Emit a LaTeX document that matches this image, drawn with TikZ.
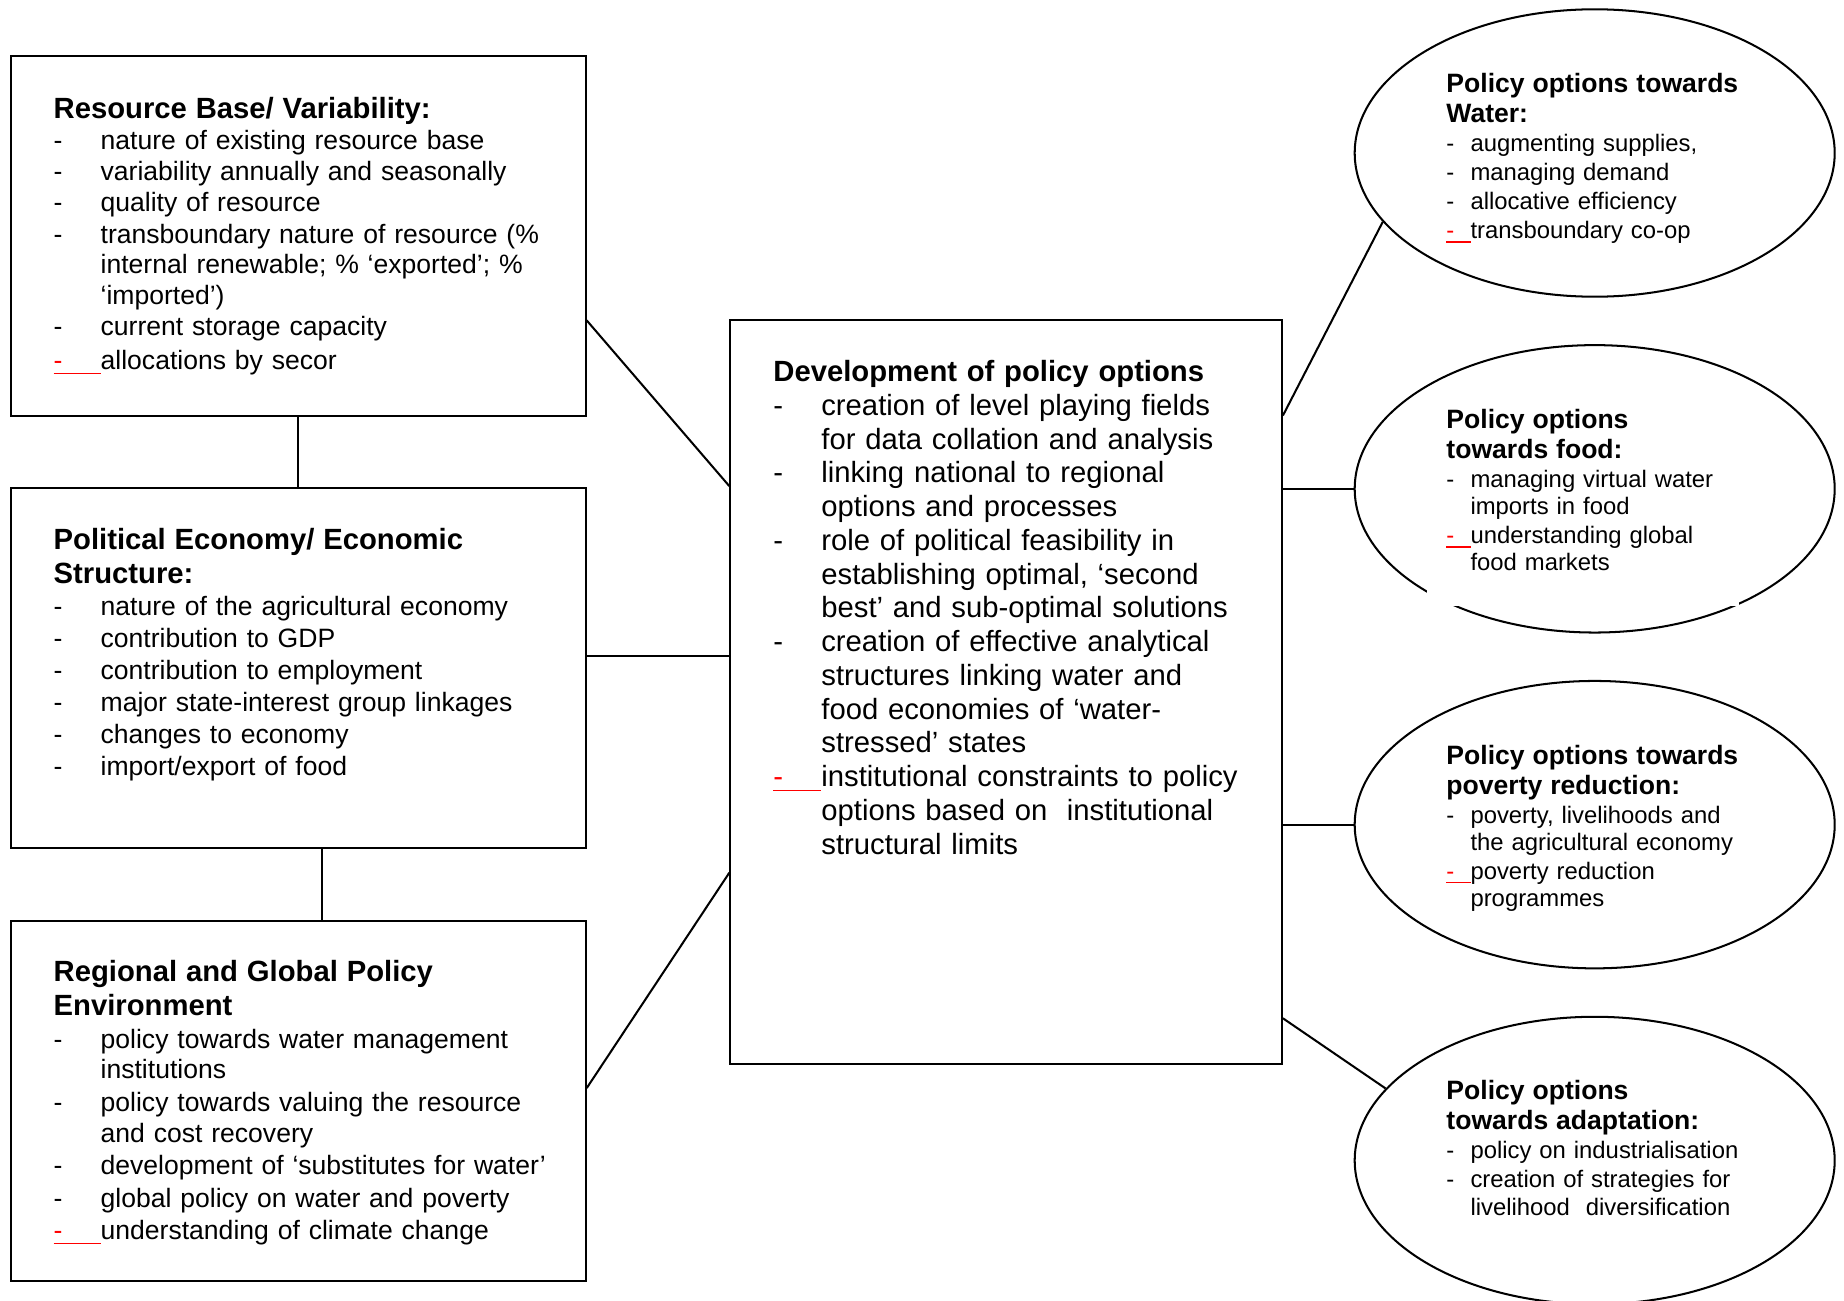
\documentclass[tikz,border=0pt]{standalone}
\usepackage{fontspec}
\setmainfont{Liberation Sans}
\usepackage{tikz}
\usetikzlibrary{calc,positioning,shapes.geometric}
\setlength{\parindent}{0pt}
\newcommand{\pxu}{0.4444pt}
\newlength{\dashind}
% list lines
\newcommand{\dashline}[1]{\par\noindent\hangindent=\dashind\hangafter=1\makebox[\dashind][l]{-}#1}
\newcommand{\redline}[1]{\par\noindent\hangindent=\dashind\hangafter=1\makebox[\dashind][l]{\color{red}\rlap{\rule[-1.8pt]{\dashind}{0.5pt}}-}#1}
\newcommand{\boxhead}[1]{{\fontsize{13}{15}\selectfont\bfseries #1\par}}
\newcommand{\ellhead}[1]{{\fontsize{11.8}{13.3}\selectfont\bfseries #1\par}}
\tikzset{
    %Define style for boxes
    infobox/.style={
           rectangle,
           draw=black, line width=0.9pt,
           inner sep=0pt,
           minimum width=575*\pxu,
           minimum height=360*\pxu},
    %Define style for ellipses
    optellipse/.style={
           ellipse,
           draw=black, line width=0.9pt,
           inner sep=0pt,
           minimum width=480*\pxu,
           minimum height=287.4*\pxu},
    %Define style for texts
    listtext/.style={
           anchor=north west,
           inner sep=0pt,
           align=left},
    boxtext/.style={
           listtext,
           text width=520*\pxu,
           font=\fontsize{11.8}{13.6}\selectfont,
           execute at begin node={\setlength{\dashind}{20.9pt}\setlength{\parskip}{#1}}},
    boxtext/.default=0.3pt,
    devtext/.style={
           listtext,
           text width=500*\pxu,
           font=\fontsize{13}{15}\selectfont,
           execute at begin node={\setlength{\dashind}{21.3pt}\setlength{\parskip}{0pt}}},
    elltext/.style={
           listtext,
           text width=330*\pxu,
           font=\fontsize{10.6}{12.1}\selectfont,
           execute at begin node={\setlength{\dashind}{10.7pt}\setlength{\parskip}{0.8pt}}},
    % Define line style
    link/.style={
           draw=black,
           line width=0.9pt}
}
\begin{document}
\begin{tikzpicture}[x=\pxu,y=-\pxu]
\useasboundingbox (0,0) rectangle (1844,1301);
\clip (0,0) rectangle (1844,1301);
 %nodes
\node[infobox] (resbox) at (298.2,236.4) {};
\node[infobox, below=69.8*\pxu of resbox] (polbox) {};
\node[infobox, below=70.9*\pxu of polbox] (regbox) {};
\node[infobox, minimum width=551.6*\pxu, minimum height=744.4*\pxu] (devbox) at (1006.1,692.1) {};
\node[optellipse] (water) at (1594.7,153) {};
\node[optellipse, below=46.4*\pxu of water] (food) {};
\node[optellipse, below=46.4*\pxu of food] (poverty) {};
\node[optellipse, below=46.4*\pxu of poverty] (adapt) {};
\fill[white] ([shift={(-167.7,91)}]food.center) rectangle ([shift={(144.3,117)}]food.center);
 %texts
\node[boxtext] (restext) at ([shift={(43.5,41)}]resbox.north west) {%
\boxhead{Resource Base/ Variability:}
\dashline{nature of existing resource base}
\dashline{variability annually and seasonally}
\dashline{quality of resource}
\dashline{transboundary nature of resource (\%\newline internal renewable; \% ‘exported’; \%\newline ‘imported’)}
\dashline{current storage capacity}
\vspace{1.2pt}
\redline{allocations by secor}\par};
\node[boxtext=0.6pt] (poltext) at ([shift={(43.5,41)}]polbox.north west) {%
\boxhead{Political Economy/ Economic\newline Structure:}
\dashline{nature of the agricultural economy}
\dashline{contribution to GDP}
\dashline{contribution to employment}
\dashline{major state-interest group linkages}
\dashline{changes to economy}
\dashline{import/export of food}\par};
\node[boxtext=0.9pt] (regtext) at ([shift={(43.5,40)}]regbox.north west) {%
\boxhead{Regional and Global Policy\newline Environment}
\dashline{policy towards water management\newline institutions}
\dashline{policy towards valuing the resource\newline and cost recovery}
\dashline{development of ‘substitutes for water’}
\dashline{global policy on water and poverty}
\redline{understanding of climate change}\par};
\node[devtext] (devtext) at ([shift={(43.7,41)}]devbox.north west) {%
\boxhead{Development of policy options}
\dashline{creation of level playing fields\newline for data collation and analysis}
\dashline{linking national to regional\newline options and processes}
\dashline{role of political feasibility in\newline establishing optimal, ‘second\newline best’ and sub-optimal solutions}
\dashline{creation of effective analytical\newline structures linking water and\newline food economies of ‘water-\newline stressed’ states}
\redline{institutional constraints to policy\newline options based on\ \ institutional\newline structural limits}\par};
\node[elltext] (watertext) at ([shift={(-148.7,64.5)}]water.north) {%
\ellhead{Policy options towards\newline Water:}
\dashline{augmenting supplies,}
\dashline{managing demand}
\dashline{allocative efficiency}
\redline{transboundary co-op}\par};
\node[elltext] (foodtext) at ([shift={(-148.7,64.5)}]food.north) {%
\ellhead{Policy options\newline towards food:}
\dashline{managing virtual water\newline imports in food}
\redline{understanding global\newline food markets}\par};
\node[elltext] (povertytext) at ([shift={(-148.7,64.5)}]poverty.north) {%
\ellhead{Policy options towards\newline poverty reduction:}
\dashline{poverty, livelihoods and\newline the agricultural economy}
\redline{poverty reduction\newline programmes}\par};
\node[elltext] (adapttext) at ([shift={(-148.7,64.5)}]adapt.north) {%
\ellhead{Policy options\newline towards adaptation:}
\dashline{policy on industrialisation}
\dashline{creation of strategies for\newline livelihood\ \ diversification}\par};
 %links
\draw[link] (resbox.south) -- (polbox.north);
\draw[link] ($(polbox.south west)!0.542!(polbox.south east)$) -- ($(regbox.north west)!0.542!(regbox.north east)$);
\draw[link] ($(resbox.north east)!0.732!(resbox.south east)$) -- ($(devbox.north west)!0.224!(devbox.south west)$);
\draw[link] ($(polbox.north east)!0.467!(polbox.south east)$) coordinate (polout) -- (polout -| devbox.west);
\draw[link] ($(regbox.north east)!0.464!(regbox.south east)$) -- ($(devbox.north west)!0.742!(devbox.south west)$);
\draw[link] ($(devbox.north east)!0.1295!(devbox.south east)$) -- (water.198);
\draw[link] (food.west -| devbox.east) -- (food.west);
\draw[link] (poverty.west -| devbox.east) -- (poverty.west);
\draw[link] ($(devbox.north east)!0.937!(devbox.south east)$) -- (adapt.161);
\end{tikzpicture}
\end{document}
